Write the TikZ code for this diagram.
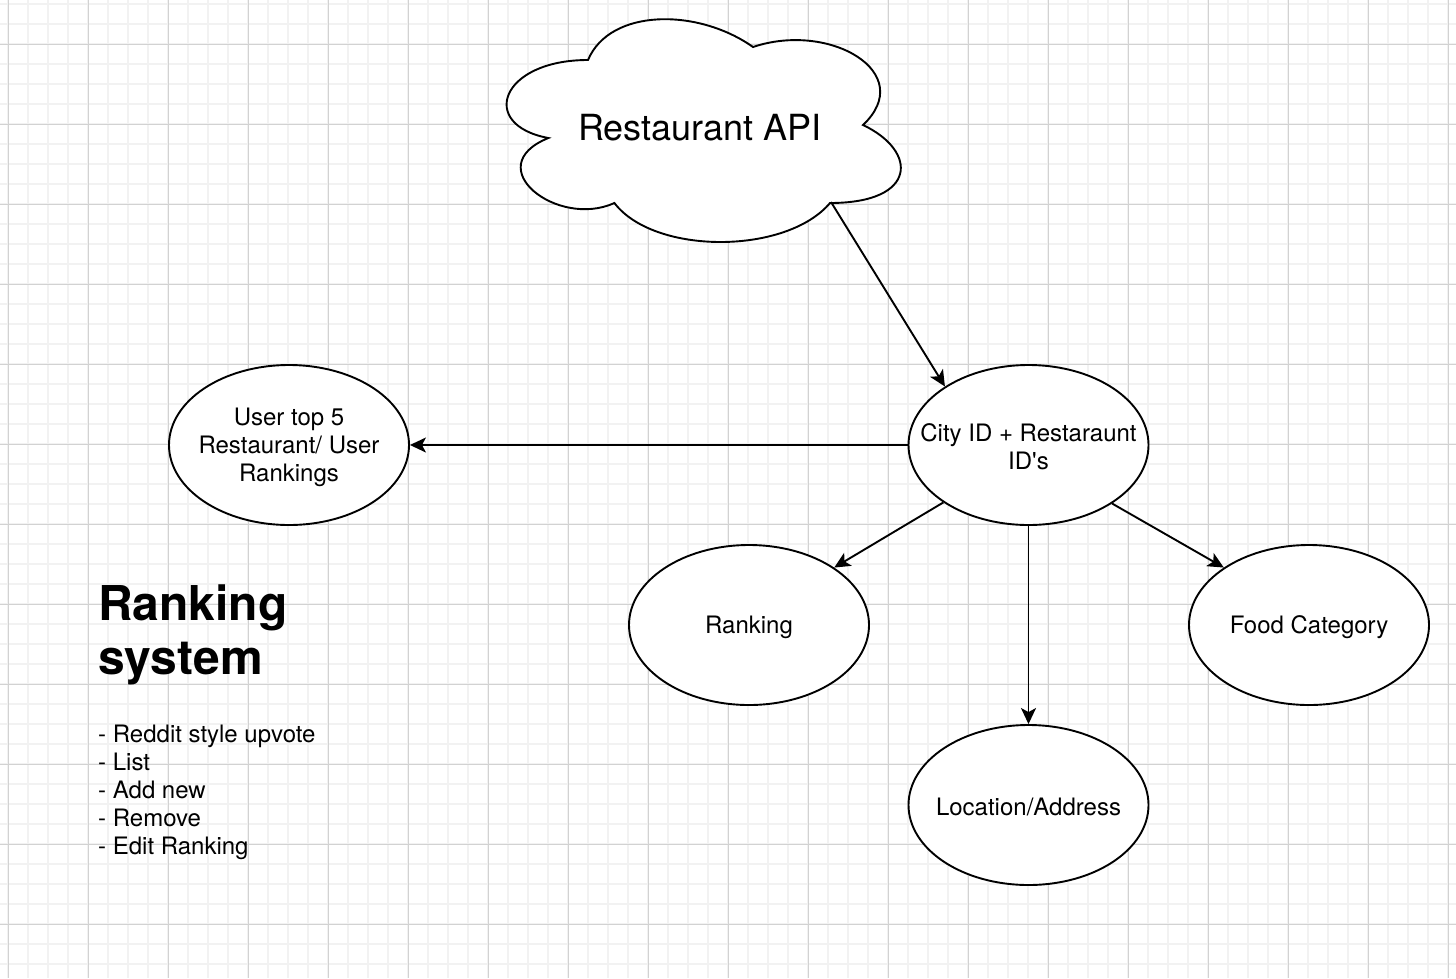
\documentclass[tikz,border=0pt]{standalone}
\usepackage{fontspec}
\setmainfont{TeX Gyre Heros}
\usetikzlibrary{shapes.geometric,arrows.meta}
\definecolor{gridminor}{RGB}{242,242,242}
\definecolor{gridmajor}{RGB}{210,210,210}
\tikzset{
  ell/.style={draw, line width=1.9pt, ellipse, fill=white, minimum width=240pt, minimum height=160pt, inner sep=0pt},
  elltext/.style={inner sep=0pt, align=center, font=\fontsize{24}{28}\selectfont, yshift=-2pt},
  conn/.style={line width=1.9pt, -{Stealth[length=16pt,width=15pt,inset=4pt]}},
  txt/.style={inner sep=0pt, align=left},
}
\begin{document}
\begin{tikzpicture}[x=1pt,y=-1pt]
\useasboundingbox (0,0) rectangle (1456,978);
\fill[white] (0,0) rectangle (1456,978);
% grid
\foreach \gx in {8,28,...,1456} \draw[gridminor, line width=1.6pt] (\gx,0) -- (\gx,978);
\foreach \gy in {4,24,...,978} \draw[gridminor, line width=1.6pt] (0,\gy) -- (1456,\gy);
\foreach \gx in {8,88,...,1456} \draw[gridmajor, line width=1pt] (\gx,0) -- (\gx,978);
\foreach \gy in {44,124,...,978} \draw[gridmajor, line width=1pt] (0,\gy) -- (1456,\gy);
% cloud
\draw[line width=1.9pt, fill=white] (588,60) .. controls (500,60) and (478,125) .. (548.4,138)
  .. controls (478,166.6) and (557.2,229) .. (614.4,203)
  .. controls (654,255) and (786,255) .. (830,203)
  .. controls (918,203) and (918,151) .. (863,125)
  .. controls (918,73) and (830,21) .. (753,47)
  .. controls (698,8) and (610,8) .. (588,60) -- cycle;
\node[inner sep=0pt, font=\fontsize{36}{42}\selectfont] (api) at (700,128) {Restaurant API};
\coordinate (apiexit) at (831,202);
% ellipses
\node[ell, label={[elltext]center:City ID + Restaraunt\\ID\textquotesingle s}] (city) at (1028.5,445) {};
\node[ell, label={[elltext]center:User top 5\\Restaurant/ User\\Rankings}] (user) at (289,445) {};
\node[ell, label={[elltext]center:Ranking}] (rank) at (749,625) {};
\node[ell, label={[elltext]center:Food Category}] (food) at (1309,625) {};
\node[ell, label={[elltext]center:Location/Address}] (loc) at (1028.5,805) {};
% connectors
\draw[conn] (apiexit) -- (city.145.4);
\draw[conn] (city.west) -- (user.east);
\draw[conn] (city.214.2) -- (rank.34.3);
\draw[conn] (city.south) -- (loc.north);
\draw[conn] (city.325.8) -- (food.146.6);
% text
\node[txt, anchor=base west, font=\fontsize{48}{54}\selectfont\bfseries] (title) at (98,674) {Ranking\\system};
\node[txt, anchor=north west, font=\fontsize{24}{28}\selectfont] (list) at (98,725) {- Reddit style upvote\\- List\\- Add new\\- Remove\\- Edit Ranking};
\end{tikzpicture}
\end{document}
